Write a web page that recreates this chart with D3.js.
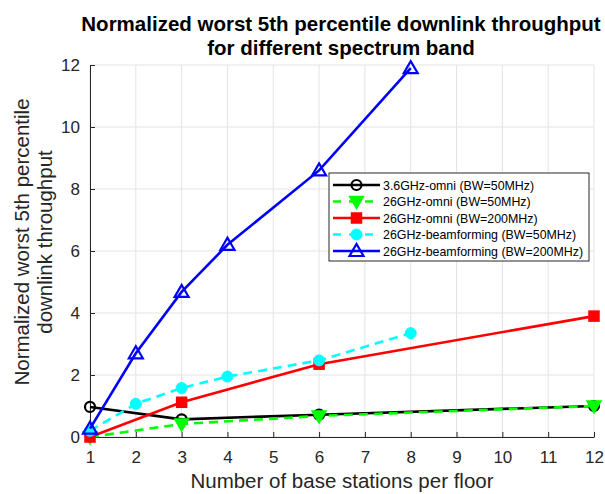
<!DOCTYPE html>
<html>
<head>
<meta charset="utf-8">
<script src="https://cdn.jsdelivr.net/npm/d3@7"></script>
<style>
  body { margin: 0; background: #fff; }
  text { font-family: "Liberation Sans", Arial, sans-serif; }
</style>
</head>
<body>
<div id="chart"></div>
<script>
// data
var seriesNames = ["3.6GHz-omni (BW=50MHz)", "26GHz-omni (BW=50MHz)", "26GHz-omni (BW=200MHz)",
                   "26GHz-beamforming (BW=50MHz)", "26GHz-beamforming (BW=200MHz)"];
var omni36_50 = [[1, 0.97], [3, 0.57], [6, 0.72], [12, 1.0]];
var omni26_50 = [[1, 0.0], [3, 0.42], [6, 0.68], [12, 1.0]];
var omni26_200 = [[1, 0.0], [3, 1.12], [6, 2.35], [12, 3.9]];
var bf26_50 = [[1, 0.2], [2, 1.07], [3, 1.58], [4, 1.95], [6, 2.47], [8, 3.35]];
var bf26_200 = [[1, 0.27], [2, 2.7], [3, 4.68], [4, 6.2], [6, 8.6], [8, 11.9]];
var xTicks = [1, 2, 3, 4, 5, 6, 7, 8, 9, 10, 11, 12];
var yTicks = [0, 2, 4, 6, 8, 10, 12];

var series = [
  {name: seriesNames[0], values: omni36_50, color: "#000000", dash: null, marker: "circle", fill: "none"},
  {name: seriesNames[1], values: omni26_50, color: "#00ff00", dash: "9,6", marker: "triDown", fill: "#00ff00"},
  {name: seriesNames[2], values: omni26_200, color: "#ff0000", dash: null, marker: "square", fill: "#ff0000"},
  {name: seriesNames[3], values: bf26_50, color: "#00ffff", dash: "9,6", marker: "dot", fill: "#00ffff"},
  {name: seriesNames[4], values: bf26_200, color: "#0000ff", dash: null, marker: "triUp", fill: "none"}
];

var width = 605, height = 494;
var margin = {top: 65, right: 11, bottom: 57, left: 90};
var w = width - margin.left - margin.right;
var h = height - margin.top - margin.bottom;

var svg = d3.select("#chart").append("svg")
    .attr("width", width)
    .attr("height", height);

var g = svg.append("g").attr("transform", "translate(" + margin.left + "," + margin.top + ")");

var x = d3.scaleLinear().domain([1, 12]).range([0, w]);
var y = d3.scaleLinear().domain([0, 12]).range([h, 0]);

// grid
g.selectAll(".vgrid").data(xTicks).enter().append("line")
    .attr("x1", function(d){ return x(d); }).attr("x2", function(d){ return x(d); })
    .attr("y1", 0).attr("y2", h)
    .attr("stroke", "#e3e3e3").attr("stroke-width", 1);
g.selectAll(".hgrid").data(yTicks).enter().append("line")
    .attr("x1", 0).attr("x2", w)
    .attr("y1", function(d){ return y(d); }).attr("y2", function(d){ return y(d); })
    .attr("stroke", "#e3e3e3").attr("stroke-width", 1);

// axes
var xAxis = g.append("g").attr("transform", "translate(0," + h + ")")
    .call(d3.axisBottom(x).tickValues(xTicks).tickSizeInner(-5).tickSizeOuter(0).tickPadding(14));
var yAxis = g.append("g")
    .call(d3.axisLeft(y).tickValues(yTicks).tickSizeInner(-5).tickSizeOuter(0).tickPadding(10));

[xAxis, yAxis].forEach(function(ax){
  ax.select(".domain").attr("stroke", "#262626").attr("stroke-width", 1);
  ax.selectAll(".tick line").attr("stroke", "#262626");
  ax.selectAll(".tick text").attr("fill", "#262626")
    .style("font-size", "17px").style("font-family", "Liberation Sans, Arial, sans-serif");
});

var line = d3.line().x(function(d){ return x(d[0]); }).y(function(d){ return y(d[1]); });

function drawMarker(sel, type, color, fill) {
  if (type == "circle") {
    sel.append("circle").attr("r", 5).attr("fill", fill).attr("stroke", color).attr("stroke-width", 2.2);
  } else if (type == "dot") {
    sel.append("circle").attr("r", 5.5).attr("fill", fill).attr("stroke", color).attr("stroke-width", 1);
  } else if (type == "square") {
    sel.append("rect").attr("x", -5).attr("y", -5).attr("width", 10).attr("height", 10)
      .attr("fill", fill).attr("stroke", color).attr("stroke-width", 1.5);
  } else if (type == "triDown") {
    sel.append("path").attr("d", "M-7,-5L7,-5L0,7Z").attr("fill", fill).attr("stroke", color).attr("stroke-width", 1.5);
  } else if (type == "triUp") {
    sel.append("path").attr("d", "M-7,5L7,5L0,-7Z").attr("fill", fill).attr("stroke", color).attr("stroke-width", 2.2);
  }
}

series.forEach(function(s){
  var sg = g.append("g");
  sg.append("path").datum(s.values)
    .attr("d", line)
    .attr("fill", "none")
    .attr("stroke", s.color)
    .attr("stroke-width", 2.6)
    .attr("stroke-dasharray", s.dash);
  sg.selectAll("g.pt").data(s.values).enter().append("g")
    .attr("transform", function(d){ return "translate(" + x(d[0]) + "," + y(d[1]) + ")"; })
    .each(function(){ drawMarker(d3.select(this), s.marker, s.color, s.fill); });
});

// legend
var lg = svg.append("g").attr("transform", "translate(329,173)");
lg.append("rect").attr("width", 260).attr("height", 88)
  .attr("fill", "#fff").attr("stroke", "#262626").attr("stroke-width", 1);
series.forEach(function(s, i){
  var row = lg.append("g").attr("transform", "translate(0," + (12 + i * 16.5) + ")");
  row.append("line").attr("x1", 4).attr("x2", 51).attr("y1", 0).attr("y2", 0)
    .attr("stroke", s.color).attr("stroke-width", 2.6).attr("stroke-dasharray", s.dash ? "8,8" : null);
  var m = row.append("g").attr("transform", "translate(27.5,0)");
  drawMarker(m, s.marker, s.color, s.fill);
  row.append("text").attr("x", 54).attr("y", 4.5)
    .style("font-size", "12.4px").attr("fill", "#000").text(s.name);
});

// title
var title = svg.append("text").attr("text-anchor", "middle")
  .style("font-size", "20.5px").style("font-weight", "bold").attr("fill", "#000");
title.append("tspan").attr("x", 341).attr("y", 31).text("Normalized worst 5th percentile downlink throughput");
title.append("tspan").attr("x", 341).attr("y", 55).text("for different spectrum band");

// axis labels
svg.append("text").attr("x", margin.left + w / 2).attr("y", 488)
  .attr("text-anchor", "middle").style("font-size", "20.5px").attr("fill", "#262626")
  .text("Number of base stations per floor");

var yl = svg.append("text").attr("transform", "translate(0,242) rotate(-90)")
  .attr("text-anchor", "middle").style("font-size", "20.5px").attr("fill", "#262626");
yl.append("tspan").attr("x", 0).attr("y", 29).text("Normalized worst 5th percentile");
yl.append("tspan").attr("x", 0).attr("y", 52).text("downlink throughput");
</script>
</body>
</html>
